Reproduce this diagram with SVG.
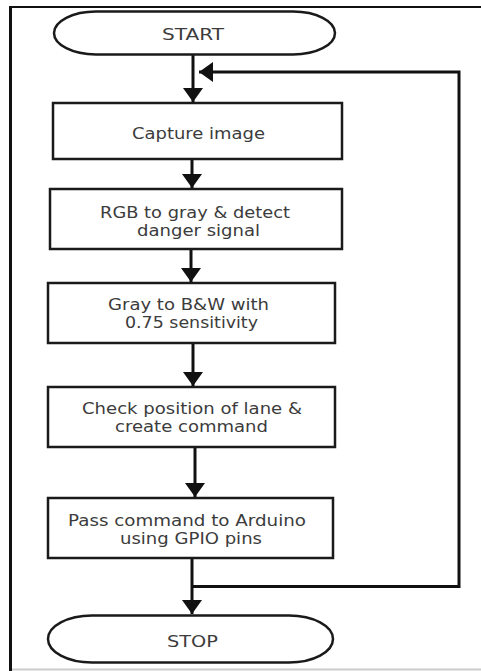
<svg xmlns="http://www.w3.org/2000/svg" width="481" height="671" viewBox="0 0 481 671">
  <style>
    .shape { fill: #ffffff; stroke: #1a1a1a; stroke-width: 2.5; }
    .label { font-family: "DejaVu Sans", Verdana, sans-serif; font-size: 15.5px; fill: #3c3c3c; text-anchor: middle; }
    .flow { fill: none; stroke: #111111; stroke-width: 3; }
  </style>
  <defs>
    <marker id="arrow" viewBox="0 0 14 20" refX="14" refY="10" markerWidth="14" markerHeight="20" markerUnits="userSpaceOnUse" orient="auto">
      <path d="M0,0 L14,10 L0,20 Z" fill="#111111"/>
    </marker>
  </defs>

  <rect x="0" y="0" width="481" height="671" fill="#ffffff"/>

  <!-- frame -->
  <g id="frame">
    <line x1="9" y1="7" x2="481" y2="7" stroke="#111111" stroke-width="2"/>
    <line x1="10.5" y1="6" x2="10.5" y2="671" stroke="#111111" stroke-width="3"/>
    <line x1="12" y1="669.5" x2="481" y2="669.5" stroke="#cccccc" stroke-width="2"/>
  </g>

  <!-- connectors -->
  <g id="connectors">
    <line class="flow" x1="193" y1="55" x2="193" y2="102" marker-end="url(#arrow)"/>
    <path class="flow" d="M193,586.5 H459 V72 H199" marker-end="url(#arrow)"/>
    <line class="flow" x1="192" y1="159" x2="192" y2="188" marker-end="url(#arrow)"/>
    <line class="flow" x1="191" y1="249" x2="191" y2="282" marker-end="url(#arrow)"/>
    <line class="flow" x1="193" y1="343" x2="193" y2="386" marker-end="url(#arrow)"/>
    <line class="flow" x1="195" y1="447" x2="195" y2="497" marker-end="url(#arrow)"/>
    <line class="flow" x1="192" y1="558" x2="192" y2="614" marker-end="url(#arrow)"/>
  </g>

  <g id="start">
    <rect class="shape" x="54" y="11.5" width="281" height="43" rx="42" ry="21.5"/>
    <text class="label" x="193" y="39.5" textLength="62" lengthAdjust="spacingAndGlyphs">START</text>
  </g>

  <g id="capture">
    <rect class="shape" x="53" y="103" width="289" height="56"/>
    <text class="label" x="198.5" y="138.5" textLength="133" lengthAdjust="spacingAndGlyphs">Capture image</text>
  </g>

  <g id="gray">
    <rect class="shape" x="50" y="189" width="292" height="60"/>
    <text class="label" x="195" y="217.5" textLength="190" lengthAdjust="spacingAndGlyphs">RGB to gray &amp; detect</text>
    <text class="label" x="198.5" y="235.5" textLength="123" lengthAdjust="spacingAndGlyphs">danger signal</text>
  </g>

  <g id="bw">
    <rect class="shape" x="48" y="283" width="287" height="60"/>
    <text class="label" x="188.5" y="309.5" textLength="161" lengthAdjust="spacingAndGlyphs">Gray to B&amp;W with</text>
    <text class="label" x="191.5" y="328" textLength="133" lengthAdjust="spacingAndGlyphs">0.75 sensitivity</text>
  </g>

  <g id="lane">
    <rect class="shape" x="48" y="387" width="287" height="60"/>
    <text class="label" x="192" y="413.5" textLength="220" lengthAdjust="spacingAndGlyphs">Check position of lane &amp;</text>
    <text class="label" x="191.5" y="432" textLength="153" lengthAdjust="spacingAndGlyphs">create command</text>
  </g>

  <g id="arduino">
    <rect class="shape" x="48" y="498" width="285" height="60"/>
    <text class="label" x="187" y="525.5" textLength="238" lengthAdjust="spacingAndGlyphs">Pass command to Arduino</text>
    <text class="label" x="191" y="543.5" textLength="142" lengthAdjust="spacingAndGlyphs">using GPIO pins</text>
  </g>

  <g id="stop">
    <rect class="shape" x="48" y="615.5" width="285" height="47" rx="44" ry="23.5"/>
    <text class="label" x="192.5" y="646.5" textLength="51" lengthAdjust="spacingAndGlyphs">STOP</text>
  </g>
</svg>
